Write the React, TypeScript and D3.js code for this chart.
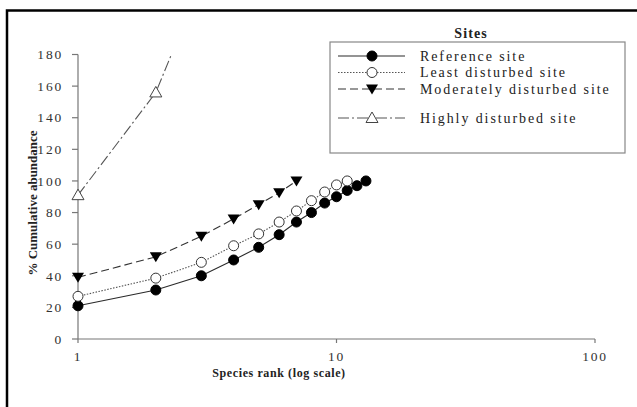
import React from 'react';
import * as d3 from 'd3';

// species rank (x) and % cumulative abundance (y) for each site
const referenceRanks = [1, 2, 3, 4, 5, 6, 7, 8, 9, 10, 11, 12, 13];
const referenceValues = [21, 31, 40, 50, 58, 66, 74, 80, 86, 90, 94, 97, 100];

const leastRanks = [1, 2, 3, 4, 5, 6, 7, 8, 9, 10, 11];
const leastValues = [27, 38.5, 48.5, 59, 66.5, 74, 81, 87.5, 93, 97.5, 100];

const moderateRanks = [1, 2, 3, 4, 5, 6, 7];
const moderateValues = [39, 52, 65, 76, 85, 92.5, 100];

const highlyRanks = [1, 2, 3];
const highlyValues = [91, 156, 226];

const yTicks = [0, 20, 40, 60, 80, 100, 120, 140, 160, 180];
const xTicks = [1, 10, 100];

const FONT = 'Liberation Serif';

type Marker = 'dot' | 'circle' | 'down' | 'up';

const series = [
  { name: 'Reference site', ranks: referenceRanks, values: referenceValues, dash: '', marker: 'dot' as Marker, stroke: '#2a2a2a' },
  { name: 'Least disturbed site', ranks: leastRanks, values: leastValues, dash: '1.5 1.5', marker: 'circle' as Marker, stroke: '#555' },
  { name: 'Moderately disturbed site', ranks: moderateRanks, values: moderateValues, dash: '8 4', marker: 'down' as Marker, stroke: '#333' },
  { name: 'Highly disturbed site', ranks: highlyRanks, values: highlyValues, dash: '11 3 2 3', marker: 'up' as Marker, stroke: '#555' },
];

const MarkerShape = ({ type, x, y }: { type: Marker; x: number; y: number }) => {
  if (type === 'dot') return <circle cx={x} cy={y} r={5} fill="#000" stroke="#000" />;
  if (type === 'circle') return <circle cx={x} cy={y} r={5} fill="#fff" stroke="#333" strokeWidth={1} />;
  if (type === 'down')
    return <path d={`M${x - 6},${y - 4.5}L${x + 6},${y - 4.5}L${x},${y + 5.5}Z`} fill="#000" />;
  return <path d={`M${x},${y - 6}L${x + 6},${y + 4.5}L${x - 6},${y + 4.5}Z`} fill="#fff" stroke="#444" strokeWidth={1} />;
};

export default function App() {
  const left = 78, right = 595, top = 54.5, bottom = 339;

  const x = d3.scaleLog().domain([1, 100]).range([left, right]);
  const y = d3.scaleLinear().domain([0, 180]).range([bottom, top]);

  const line = d3.line<[number, number]>()
    .x(d => x(d[0]))
    .y(d => y(d[1]));

  const legendRows = [56, 72.5, 89, 118];

  return (
    <div style={{ position: 'absolute', left: 0, top: 0 }}>
      <svg width={637} height={407} style={{ display: 'block', background: '#fff', fontFamily: FONT }}>
        <defs>
          <clipPath id="plot">
            <rect x={left - 8} y={top} width={right - left + 16} height={bottom - top + 8} />
          </clipPath>
        </defs>

        {/* frame */}
        <path d="M7,407V10.5H637" fill="none" stroke="#000" strokeWidth={2.5} />

        {/* y axis */}
        <line x1={left} x2={left} y1={top} y2={bottom} stroke="#777" strokeWidth={1.2} />
        {yTicks.map(t => (
          <g key={t}>
            <line x1={left - 6} x2={left} y1={y(t)} y2={y(t)} stroke="#777" strokeWidth={1.2} />
            <text x={63} y={y(t)} dy="0.35em" textAnchor="end" style={{ fontFamily: FONT }} fontSize={13.5}
              letterSpacing={1.8} fill="#333">{t}</text>
          </g>
        ))}

        {/* x axis */}
        <line x1={left} x2={right} y1={bottom} y2={bottom} stroke="#777" strokeWidth={1.2} />
        {xTicks.map(t => (
          <g key={t}>
            <line x1={x(t)} x2={x(t)} y1={bottom} y2={bottom + 4} stroke="#777" strokeWidth={1.2} />
            <text x={x(t)} y={361} textAnchor="middle" style={{ fontFamily: FONT }} fontSize={13.5}
              letterSpacing={1.8} fill="#333">{t}</text>
          </g>
        ))}

        <text x={279} y={377} textAnchor="middle" style={{ fontFamily: FONT }} fontSize={12} fontWeight="bold"
          letterSpacing={0.6} fill="#222">Species rank (log scale)</text>
        <text transform="translate(37,203) rotate(-90)" textAnchor="middle" style={{ fontFamily: FONT }} fontSize={13}
          fontWeight="bold" fill="#222">% Cumulative abundance</text>

        {/* series */}
        <g clipPath="url(#plot)">
          {series.map(s => {
            const pts = s.ranks.map((r, i) => [r, s.values[i]] as [number, number]);
            return (
              <g key={s.name}>
                <path d={line(pts) || ''} fill="none" stroke={s.stroke} strokeWidth={1.1}
                  strokeDasharray={s.dash || undefined} />
                {pts.map((p, i) => (
                  <MarkerShape key={i} type={s.marker} x={x(p[0])} y={y(p[1])} />
                ))}
              </g>
            );
          })}
        </g>

        {/* legend */}
        <text x={471} y={38} textAnchor="middle" style={{ fontFamily: FONT }} fontSize={14} fontWeight="bold"
          letterSpacing={1.1} fill="#222">Sites</text>
        <rect x={330} y={42} width={295} height={111} fill="#fff" stroke="#888" strokeWidth={1.2} />
        {series.map((s, i) => (
          <g key={s.name}>
            <line x1={338} x2={405} y1={legendRows[i]} y2={legendRows[i]} stroke={s.stroke} strokeWidth={1.1}
              strokeDasharray={s.dash || undefined} />
            <MarkerShape type={s.marker} x={372} y={legendRows[i]} />
            <text x={420} y={legendRows[i]} dy="0.35em" style={{ fontFamily: FONT }} fontSize={14} letterSpacing={1.9}
              fill="#222">{s.name}</text>
          </g>
        ))}
      </svg>
    </div>
  );
}
